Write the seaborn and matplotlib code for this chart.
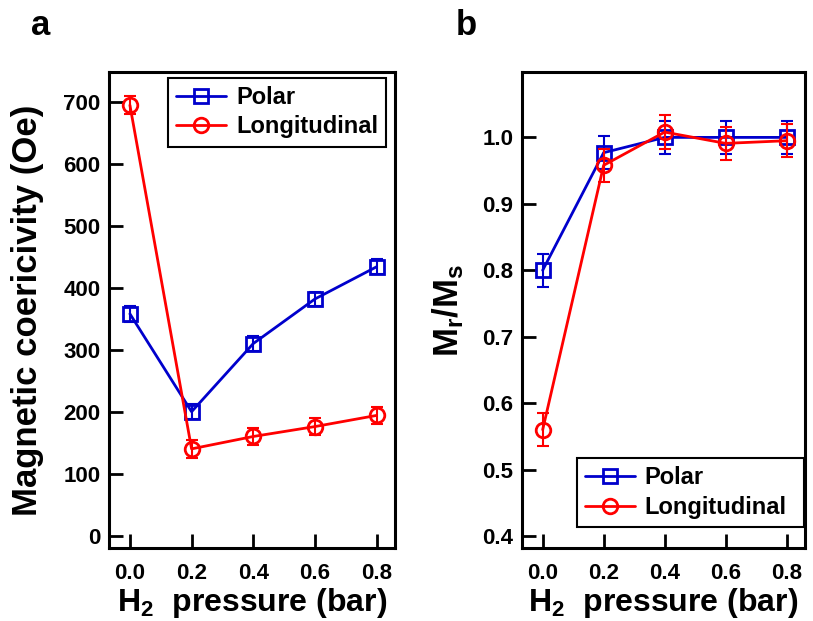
import matplotlib
matplotlib.use("Agg")
import matplotlib.pyplot as plt
import seaborn as sns

# H2 pressure (bar)
pressure = [0.0, 0.2, 0.4, 0.6, 0.8]

# panel a: magnetic coercivity (Oe)
hc_polar = [358, 200, 310, 382, 434]
hc_polar_err = [13, 12, 12, 12, 12]
hc_long = [695, 140, 160, 176, 194]
hc_long_err = [14, 14, 14, 14, 14]

# panel b: Mr/Ms
mr_polar = [0.80, 0.977, 1.0, 1.0, 1.0]
mr_polar_err = [0.025, 0.025, 0.025, 0.025, 0.025]
mr_long = [0.56, 0.958, 1.008, 0.991, 0.995]
mr_long_err = [0.025, 0.025, 0.025, 0.025, 0.025]

blue = "#0000CC"
red = "#FF0000"

sns.set_theme(style="ticks")
plt.rcParams["font.family"] = ["Liberation Sans", "DejaVu Sans"]
plt.rcParams["font.weight"] = "bold"
plt.rcParams["mathtext.default"] = "regular"
for k in ["text.color", "axes.labelcolor", "xtick.color", "ytick.color", "axes.edgecolor"]:
    plt.rcParams[k] = "black"

fig = plt.figure(figsize=(8.13, 6.21), dpi=100)
ax_a = fig.add_axes([0.134, 0.1176, 0.352, 0.766])
ax_b = fig.add_axes([0.642, 0.1176, 0.348, 0.766])

legend_kw = dict(borderaxespad=0, fancybox=False, framealpha=1, edgecolor="black",
                 handlelength=2.1, handletextpad=0.42, borderpad=0.35, labelspacing=0.28,
                 prop={"weight": "bold", "size": 17})


def draw(ax, yp, ep, yl, el):
    for y, e, c, m, lab in [(yp, ep, blue, "s", "Polar"), (yl, el, red, "o", "Longitudinal")]:
        sns.lineplot(x=pressure, y=y, ax=ax, color=c, marker=m, markersize=10.5,
                     markerfacecolor="none", markeredgecolor=c, markeredgewidth=2,
                     linewidth=2, label=lab)
        ax.errorbar(pressure, y, yerr=e, fmt="none", ecolor=c, elinewidth=1.5,
                    capsize=4.3, capthick=1.5)
    for s in ax.spines.values():
        s.set_linewidth(2.2)
    ax.tick_params(direction="in", length=10, width=2, labelsize=16,
                   top=False, right=False)
    ax.tick_params(axis="x", pad=11)
    ax.tick_params(axis="y", pad=6)
    ax.set_xlim(-0.068, 0.86)
    ax.set_xticks(pressure)
    ax.set_xticklabels([f"{p:.1f}" for p in pressure], fontweight="bold")
    ax.set_xlabel("H$_2$  pressure (bar)", fontsize=23, fontweight="bold", labelpad=1)


draw(ax_a, hc_polar, hc_polar_err, hc_long, hc_long_err)
ax_a.set_ylim(-20, 748)
ax_a.set_yticks(range(0, 701, 100))
ax_a.set_yticklabels([str(v) for v in range(0, 701, 100)], fontweight="bold")
ax_a.set_ylabel("Magnetic coericivity (Oe)", fontsize=25, fontweight="bold", labelpad=14)
ax_a.legend(loc="upper right", bbox_to_anchor=(0.969, 0.989), **legend_kw)

draw(ax_b, mr_polar, mr_polar_err, mr_long, mr_long_err)
ax_b.set_ylim(0.382, 1.098)
mr_ticks = [0.4, 0.5, 0.6, 0.7, 0.8, 0.9, 1.0]
ax_b.set_yticks(mr_ticks)
ax_b.set_yticklabels([f"{v:.1f}" for v in mr_ticks], fontweight="bold")
ax_b.set_ylabel("M$_r$/M$_s$", fontsize=25, fontweight="bold", labelpad=12)
ax_b.legend(loc="lower left", bbox_to_anchor=(0.194, 0.044, 0.802, 0.1), mode="expand",
            **legend_kw)
for lg in [ax_a.get_legend(), ax_b.get_legend()]:
    lg.get_frame().set_linewidth(1.5)

fig.text(0.05, 0.944, "a", fontsize=25, fontweight="bold", ha="center")
fig.text(0.574, 0.944, "b", fontsize=25, fontweight="bold", ha="center")

fig.savefig("out.png", dpi=100)
